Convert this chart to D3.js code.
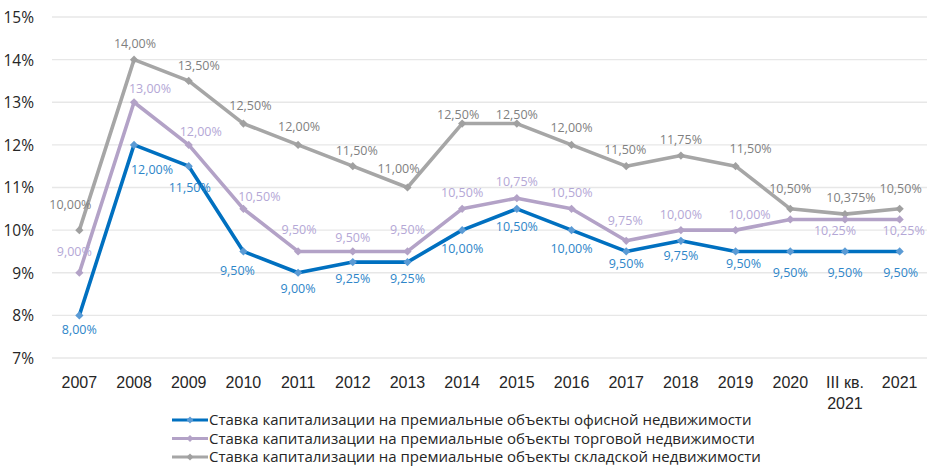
<!DOCTYPE html>
<html><head><meta charset="utf-8">
<script src="https://cdn.jsdelivr.net/npm/d3@7"></script>
<style>body{margin:0;background:#fff}svg{display:block;font-family:"Open Sans","Noto Sans",sans-serif}</style>
</head><body><svg id="c" width="945" height="470"></svg>
<script>
const categories = ["2007","2008","2009","2010","2011","2012","2013","2014","2015","2016","2017","2018","2019","2020","III кв.\n2021","2021"];
const office = [8.00,12.00,11.50,9.50,9.00,9.25,9.25,10.00,10.50,10.00,9.50,9.75,9.50,9.50,9.50,9.50];
const retail = [9.00,13.00,12.00,10.50,9.50,9.50,9.50,10.50,10.75,10.50,9.75,10.00,10.00,10.25,10.25,10.25];
const warehouse = [10.00,14.00,13.50,12.50,12.00,11.50,11.00,12.50,12.50,12.00,11.50,11.75,11.50,10.50,10.375,10.50];
const labelsOffice = ["8,00%","12,00%","11,50%","9,50%","9,00%","9,25%","9,25%","10,00%","10,50%","10,00%","9,50%","9,75%","9,50%","9,50%","9,50%","9,50%"];
const labelsRetail = ["9,00%","13,00%","12,00%","10,50%","9,50%","9,50%","9,50%","10,50%","10,75%","10,50%","9,75%","10,00%","10,00%","","10,25%","10,25%"];
const labelsWarehouse = ["10,00%","14,00%","13,50%","12,50%","12,00%","11,50%","11,00%","12,50%","12,50%","12,00%","11,50%","11,75%","11,50%","10,50%","10,375%","10,50%"];
const yTicks = [7,8,9,10,11,12,13,14,15];
const seriesNames = [
 "Ставка капитализации на премиальные объекты офисной недвижимости",
 "Ставка капитализации на премиальные объекты торговой недвижимости",
 "Ставка капитализации на премиальные объекты складской недвижимости"];

// label placement nudges (style only): [dx, dy-to-baseline] per point
const nudgeOffice = [[0,19],[18,29],[1,26],[-6,24],[0,20],[0,21],[0,21],[0,23],[0,22],[0,23],[0,17],[0,19],[8,17],[0,26],[0,26],[1,26]];
const nudgeRetail = [[-5,-17],[16,-9],[12,-9],[16,-8],[1,-17],[0,-9],[0,-17],[0,-12],[0,-12],[0,-12],[-1,-16],[0,-11],[14,-11],[0,-11],[-10,16],[4,16]];
const nudgeWarehouse = [[-9,-21],[1,-12],[10,-11],[7,-14],[1,-14],[4,-11],[-9,-15],[-4,-5],[0,-5],[0,-13],[-1,-12],[0,-12],[15,-13],[0,-16],[6,-12],[1,-16]];

const svg = d3.select("#c");
const x = d3.scaleBand().domain(categories).range([52, 927]);
const y = d3.scaleLinear().domain([7,15]).range([358, 17]);
const cx = d => x(d) + x.bandwidth()/2;

// grid
svg.append("g").selectAll("line").data(yTicks).join("line")
  .attr("x1",52).attr("x2",927).attr("y1",d=>y(d)).attr("y2",d=>y(d))
  .attr("stroke","#e7e7e7").attr("stroke-width",1.3);

// y axis labels
const yAxis = d3.axisLeft(y).tickValues(yTicks).tickFormat(d=>d+"%").tickSize(0).tickPadding(0);
const ga = svg.append("g").attr("transform","translate(34,0)").call(yAxis);
ga.select(".domain").remove();
ga.selectAll("text").attr("font-size",15.5).attr("fill","#262626").attr("font-family","'Open Sans',sans-serif").attr("dy","0.35em");

// x axis labels
const xAxis = d3.axisBottom(x).tickSize(0).tickPadding(0).tickFormat("");
const gx = svg.append("g").call(xAxis);
gx.select(".domain").remove();
gx.selectAll(".tick").each(function(d){
  const t = d3.select(this).append("text").attr("text-anchor","middle").attr("font-size",16).attr("fill","#262626");
  d.split("\n").forEach((ln,i)=>t.append("tspan").attr("x",0).attr("y",388+i*21).text(ln));
});

const series = [
  {vals:office, labels:labelsOffice, nudge:nudgeOffice, line:"#0070c0", marker:"#5b9bd5", text:"#2e86c9"},
  {vals:retail, labels:labelsRetail, nudge:nudgeRetail, line:"#b3a2c7", marker:"#b3a2c7", text:"#b4a7d6"},
  {vals:warehouse, labels:labelsWarehouse, nudge:nudgeWarehouse, line:"#a6a6a6", marker:"#a0a0a0", text:"#7f7f7f"}
];
const drawOrder = [2,1,0];
const line = d3.line().x((d,i)=>cx(categories[i])).y(d=>y(d));
const diamond = d3.symbol().type(d3.symbolSquare).size(34);

drawOrder.forEach(k=>{
  const s = series[k];
  svg.append("path").attr("d",line(s.vals)).attr("fill","none").attr("stroke",s.line).attr("stroke-width",3.6).attr("stroke-linejoin","round");
  svg.append("g").selectAll("path").data(s.vals).join("path")
    .attr("d",diamond).attr("transform",(d,i)=>`translate(${cx(categories[i])},${y(d)}) rotate(45)`).attr("fill",s.marker);
});
drawOrder.forEach(k=>{
  const s = series[k];
  svg.append("g").selectAll("text").data(s.vals).join("text")
    .attr("x",(d,i)=>cx(categories[i]) + s.nudge[i][0])
    .attr("y",(d,i)=>y(d) + s.nudge[i][1])
    .attr("text-anchor","middle").attr("font-size",12.5).attr("fill",s.text)
    .text((d,i)=>s.labels[i]);
});

// legend
const lg = svg.append("g");
const legendSym = d3.symbol().type(d3.symbolSquare).size(24);
seriesNames.forEach((n,i)=>{
  const s = series[i];
  const yy = 420 + i*18.5;
  lg.append("line").attr("x1",172).attr("x2",208).attr("y1",yy).attr("y2",yy).attr("stroke",s.line).attr("stroke-width",3.2);
  lg.append("path").attr("d",legendSym).attr("transform",`translate(190,${yy}) rotate(45)`).attr("fill",s.marker);
  lg.append("text").attr("x",209).attr("y",yy).attr("dy","0.35em").attr("font-size",15).attr("fill","#262626").text(n);
});
</script></body></html>
